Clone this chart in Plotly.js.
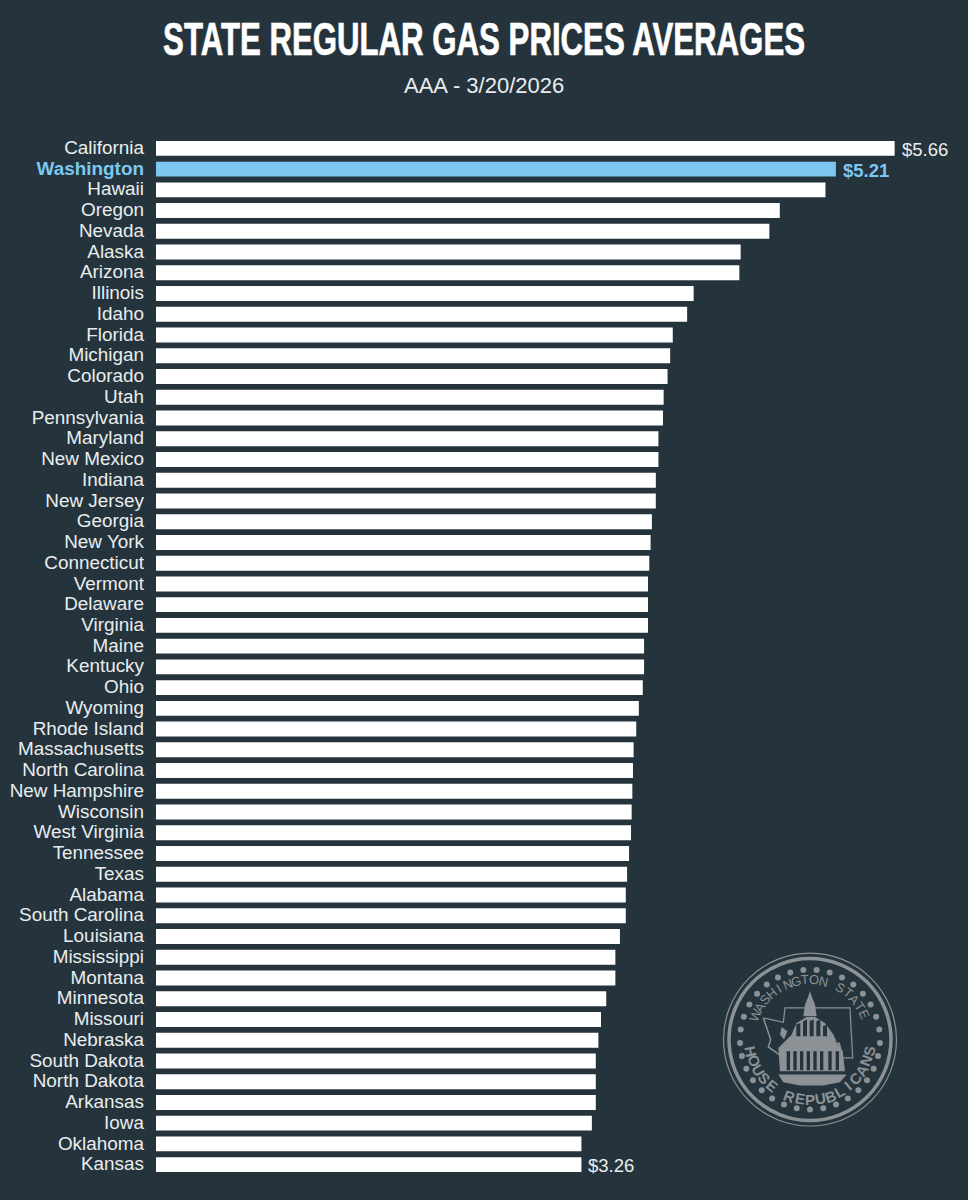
<!DOCTYPE html>
<html><head><meta charset="utf-8">
<script src="https://cdn.plot.ly/plotly-3.0.1.min.js"></script>
<style>html,body{margin:0;padding:0;background:#25343c}</style></head>
<body><div id="chart" style="width:968px;height:1200px"></div>
<script>
const states = ["California","Washington","Hawaii","Oregon","Nevada","Alaska","Arizona","Illinois","Idaho","Florida","Michigan","Colorado","Utah","Pennsylvania","Maryland","New Mexico","Indiana","New Jersey","Georgia","New York","Connecticut","Vermont","Delaware","Virginia","Maine","Kentucky","Ohio","Wyoming","Rhode Island","Massachusetts","North Carolina","New Hampshire","Wisconsin","West Virginia","Tennessee","Texas","Alabama","South Carolina","Louisiana","Mississippi","Montana","Minnesota","Missouri","Nebraska","South Dakota","North Dakota","Arkansas","Iowa","Oklahoma","Kansas"];
const prices = [5.66,5.21,5.13,4.78,4.70,4.48,4.47,4.12,4.07,3.96,3.94,3.92,3.89,3.885,3.85,3.85,3.83,3.83,3.80,3.79,3.78,3.77,3.77,3.77,3.74,3.74,3.73,3.70,3.68,3.66,3.655,3.65,3.645,3.64,3.625,3.61,3.60,3.60,3.555,3.52,3.52,3.45,3.41,3.39,3.37,3.37,3.37,3.34,3.26,3.26];
const labelledStates = ["California","Washington","Kansas"];
const labelTexts = ["$5.66","<b>$5.21</b>","$3.26"];
const titleText = "STATE REGULAR GAS PRICES AVERAGES";
const subtitleText = "AAA - 3/20/2026";
const sealTop = "WASHINGTON STATE";
const sealBottom = "HOUSE REPUBLICANS";

const BG="#25343c", WHITE="#ffffff", BLUE="#7cc8f2", TXT="#e9edef", SEAL="#8b9194";
const FONT="'Liberation Sans',sans-serif";
const W=968,H=1200,L=156,T=138,B=24.5,R=0;
const PW=W-L-R,PH=H-T-B;
const px=x=>(x-L)/PW, py=y=>1-(y-T)/PH;
const CX=810,CY=1040;
const zx=x=>px(CX+(x-330)/3), zy=y=>py(CY+(y-300)/3);
const circle=(r,o)=>Object.assign({type:"circle",xref:"paper",yref:"paper",x0:px(CX-r),x1:px(CX+r),y0:py(CY+r),y1:py(CY-r),line:{width:0},layer:"above"},o);
const path=(pts,o,close)=>Object.assign({type:"path",xref:"paper",yref:"paper",layer:"above",
  path:pts.map((p,i)=>(i?"L":"M")+zx(p[0])+","+zy(p[1])).join(" ")+(close?" Z":""),line:{width:0}},o);

const shapes=[
  circle(86.5,{line:{color:SEAL,width:1.2}}),
  circle(81,{line:{color:SEAL,width:3.5}})
];
for(let i=0;i<33;i++){
  const a=(i+0.5)*2*Math.PI/33, cx=CX+70*Math.sin(a), cy=CY-70*Math.cos(a), r=3;
  shapes.push({type:"circle",xref:"paper",yref:"paper",layer:"above",x0:px(cx-r),x1:px(cx+r),y0:py(cy+r),y1:py(cy-r),fillcolor:SEAL,line:{width:0}});
}
shapes.push(path([[190,235],[250,248],[255,205],[450,205],[458,355],[420,355]],{line:{color:SEAL,width:1.2}}));
shapes.push(path([[190,235],[212,300],[205,322],[238,345]],{line:{color:SEAL,width:1.5}}));
shapes.push(path([[245,262],[262,275],[252,300],[240,285]],{fillcolor:SEAL}));
shapes.push(path([[330,155],[337,175],[345,195],[350,230],[310,230],[315,195],[323,175]],{fillcolor:SEAL},true));
shapes.push(path([[290,250],[320,232],[345,232],[375,250],[400,285],[430,350],[420,310],[385,295],[285,295],[270,295]],{fillcolor:SEAL},true));
shapes.push(path([[235,325],[270,290],[395,290],[428,335],[435,395],[240,395]],{fillcolor:SEAL},true));
[[295,250,295,290],[315,240,315,290],[335,240,335,290],[355,240,355,290],[375,255,375,290]].forEach(c=>shapes.push(path([[c[0]-6,c[1]+5],[c[0]+6,c[1]],[c[2]+6,c[3]],[c[2]-6,c[3]]],{fillcolor:BG},true)));
[265,285,305,325,345,365,390,412].forEach(x=>shapes.push(path([[x-5,335],[x+5,335],[x+5,392],[x-5,392]],{fillcolor:BG},true)));
shapes.push(path([[235,405],[440,405],[420,428],[370,438],[300,438],[250,428]],{fillcolor:SEAL},true));

const annotations=[
 {text:"<b>"+titleText+"</b>",xref:"paper",yref:"paper",x:px(484),y:py(39),showarrow:false,xanchor:"center",yanchor:"middle",
  font:{family:FONT,size:46,color:WHITE},captureevents:false,name:"title"},
 {text:subtitleText,xref:"paper",yref:"paper",x:px(484),y:py(85),showarrow:false,xanchor:"center",yanchor:"middle",
  font:{family:FONT,size:22,color:TXT}}
];
labelledStates.forEach((s,i)=>annotations.push({text:labelTexts[i],xref:"x",yref:"y",x:prices[states.indexOf(s)],y:s,xshift:5,yshift:-1,showarrow:false,xanchor:"left",yanchor:"middle",
  font:{family:FONT,size:18.5,color:s==="Washington"?BLUE:TXT}}));
sealTop.split("").forEach((ch,i)=>{
  if(ch===" ")return;
  const deg=-66+i*131/(sealTop.length-1), a=deg*Math.PI/180;
  annotations.push({text:ch,xref:"paper",yref:"paper",x:px(CX+60*Math.sin(a)),y:py(CY-60*Math.cos(a)),showarrow:false,textangle:deg,xanchor:"center",yanchor:"middle",font:{family:FONT,size:13,color:SEAL}});
});
sealBottom.split("").forEach((ch,i)=>{
  if(ch===" ")return;
  const deg=-79+i*158/(sealBottom.length-1), a=deg*Math.PI/180;
  annotations.push({text:"<b>"+ch+"</b>",xref:"paper",yref:"paper",x:px(CX+60*Math.sin(a)),y:py(CY+60*Math.cos(a)),showarrow:false,textangle:-deg,xanchor:"center",yanchor:"middle",font:{family:FONT,size:15,color:SEAL}});
});

const data=[{type:"bar",orientation:"h",y:states,x:prices,width:0.72,
  marker:{color:states.map(s=>s==="Washington"?BLUE:WHITE),line:{width:0}},
  hoverinfo:"x+y"}];
const layout={width:W,height:H,paper_bgcolor:BG,plot_bgcolor:BG,showlegend:false,
  margin:{l:L,r:R,t:T,b:B,pad:0},bargap:0.28,
  font:{family:FONT,color:TXT},
  xaxis:{range:[0,PW/130.5],visible:false,fixedrange:true},
  yaxis:{type:"category",autorange:false,range:[49.5,-0.5],showgrid:false,zeroline:false,showline:false,ticks:"",
    ticklabelstandoff:11,tickmode:"array",tickvals:states,
    ticktext:states.map(s=>s==="Washington"?'<b><span style="color:'+BLUE+'">'+s+'</span></b>':s),
    tickfont:{family:FONT,size:18.9,color:TXT}},
  shapes,annotations};
Plotly.newPlot("chart",data,layout,{staticPlot:true,displayModeBar:false}).then(gd=>{
  // condense the headline to the narrow poster width of the original
  gd.querySelectorAll(".annotation-text").forEach(t=>{
    if(t.textContent===titleText){
      const cx=484, s=642/t.getComputedTextLength();
      t.setAttribute("transform",`translate(${cx-3} 0) scale(${s} 1) translate(${-cx} 0)`);
      t.style.stroke=WHITE; t.style.strokeWidth="0.7px";
    }
  });
  const ticks=gd.querySelector(".ytick")&&gd.querySelector(".ytick").parentNode;
  if(ticks) ticks.setAttribute("transform","translate(0,-1)");
});
</script></body></html>
